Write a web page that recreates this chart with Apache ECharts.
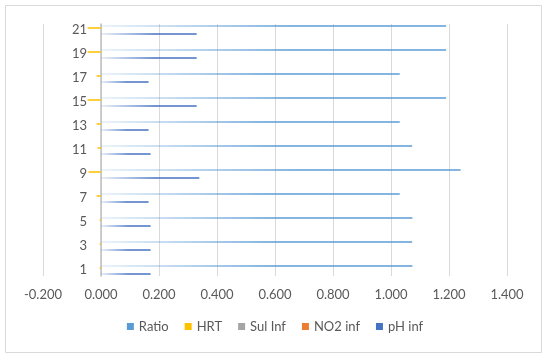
<!DOCTYPE html>
<html><head><meta charset="utf-8">
<script src="https://cdn.jsdelivr.net/npm/echarts@6/dist/echarts.min.js"></script>
<style>html,body{margin:0;padding:0;background:#fff}#c{width:550px;height:360px}</style>
</head><body><div id="c"></div>
<script>
// categories 1..21 (only odd rows carry data)
const categories = ['1','2','3','4','5','6','7','8','9','10','11','12','13','14','15','16','17','18','19','20','21'];
const seriesNames = ['Ratio', 'HRT', 'Sul Inf', 'NO2 inf', 'pH inf'];
const ratio  = [1.074, null, 1.073, null, 1.074, null, 1.030, null, 1.240, null, 1.073, null, 1.030, null, 1.190, null, 1.030, null, 1.190, null, 1.190];
const hrt    = [-0.005, null, -0.005, null, -0.005, null, -0.015, null, -0.043, null, -0.012, null, -0.015, null, -0.046, null, -0.015, null, -0.046, null, -0.046];
const sulInf = [0, null, 0, null, 0, null, 0, null, 0, null, 0, null, 0, null, 0, null, 0, null, 0, null, 0];
const no2Inf = [0, null, 0, null, 0, null, 0, null, 0, null, 0, null, 0, null, 0, null, 0, null, 0, null, 0];
const phInf  = [0.171, null, 0.171, null, 0.171, null, 0.164, null, 0.339, null, 0.171, null, 0.164, null, 0.330, null, 0.164, null, 0.330, null, 0.330];
const xMin = -0.2, xMax = 1.4, xStep = 0.2;

const colors = ['#5B9BD5', '#FFC000', '#A5A5A5', '#ED7D31', '#4472C4'];
const values = [ratio, hrt, sulInf, no2Inf, phInf];

function grad(c) {
  return new echarts.graphic.LinearGradient(0, 0, 1, 0, [
    {offset: 0, color: echarts.color.modifyAlpha(c, 0.15)},
    {offset: 0.55, color: c},
    {offset: 1, color: c}
  ]);
}

const GRID_LEFT = 43, GRID_RIGHT = 43, W = 550;
// pixel distance from the left edge of the grid to x = 0, so the category axis (line + labels) sits at zero
const zeroOffset = (0 - xMin) / (xMax - xMin) * (W - GRID_LEFT - GRID_RIGHT);

const FONT = 'Lato';
const chart = echarts.init(document.getElementById('c'), null, {renderer: 'canvas'});
chart.setOption({
  animation: false,
  backgroundColor: '#fff',
  textStyle: {fontFamily: FONT},
  graphic: [{
    type: 'rect', shape: {x: 5.5, y: 5.5, width: 536, height: 347},
    style: {fill: 'none', stroke: '#D9D9D9', lineWidth: 1}, silent: true, z: -1
  }],
  grid: {left: GRID_LEFT, right: GRID_RIGHT, top: 24, bottom: 84, containLabel: false},
  legend: {
    bottom: 22, left: 'center', itemWidth: 7, itemHeight: 7, itemGap: 16,
    icon: 'rect',
    textStyle: {color: '#595959', fontSize: 13, fontFamily: FONT},
    data: seriesNames.map((n, i) => ({name: n, itemStyle: {color: colors[i]}}))
  },
  xAxis: {
    type: 'value', min: xMin, max: xMax, interval: xStep,
    axisLine: {show: false}, axisTick: {show: false},
    splitLine: {show: true, lineStyle: {color: '#D9D9D9', width: 1}},
    axisLabel: {color: '#595959', fontSize: 13, fontFamily: FONT, margin: 12,
      formatter: v => v.toFixed(3)}
  },
  yAxis: {
    type: 'category', data: categories, offset: -zeroOffset,
    axisLine: {show: true, onZero: false, lineStyle: {color: '#BFBFBF', width: 1.5}},
    axisTick: {show: false},
    splitLine: {show: false},
    axisLabel: {color: '#595959', fontSize: 13, fontFamily: FONT, margin: 14, interval: 1}
  },
  series: seriesNames.map((n, i) => ({
    name: n, type: 'bar', data: values[i],
    barCategoryGap: '20%', barGap: '30%',
    itemStyle: {color: i === 1 ? colors[i] : grad(colors[i])}
  }))
});
</script>
</body></html>
